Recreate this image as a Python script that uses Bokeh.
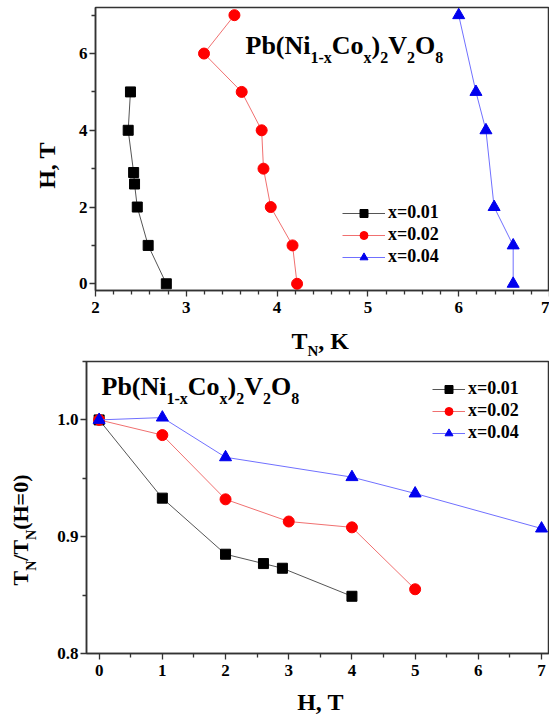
import math
from bokeh.plotting import figure
from bokeh.models import Range1d, FixedTicker, Label, Legend, LegendItem, ColumnDataSource
from bokeh.layouts import column, row
from bokeh.embed import file_html
from bokeh.resources import INLINE

# ---------------- data ----------------
series_names = ["x=0.01", "x=0.02", "x=0.04"]

# top panel: field H (T) versus Neel temperature T_N (K)
tn_001 = [2.78, 2.58, 2.46, 2.43, 2.42, 2.36, 2.385]
h_001 = [0, 1, 2, 2.6, 2.9, 4, 5]
tn_002 = [4.22, 4.17, 3.93, 3.85, 3.83, 3.61, 3.195, 3.53]
h_002 = [0, 1, 2, 3, 4, 5, 6, 7]
tn_004 = [6.60, 6.60, 6.39, 6.30, 6.19, 6.00]
h_004 = [0, 1, 2, 4, 5, 7]

# bottom panel: T_N / T_N(H=0) versus H
hr_001 = [0, 1, 2, 2.6, 2.9, 4]
ratio_001 = [1.0, 0.933, 0.885, 0.877, 0.873, 0.849]
hr_002 = [0, 1, 2, 3, 4, 5]
ratio_002 = [1.0, 0.987, 0.932, 0.913, 0.908, 0.855]
hr_004 = [0, 1, 2, 4, 5, 7]
ratio_004 = [1.0, 1.002, 0.968, 0.951, 0.937, 0.907]

top_xticks = [2, 3, 4, 5, 6, 7]
top_yticks = [0, 2, 4, 6]
bot_xticks = [0, 1, 2, 3, 4, 5, 6, 7]
bot_yticks = [0.8, 0.9, 1.0]

# ---------------- styling ----------------
FONT = "Liberation Serif"
MARKERS = ["square", "circle", "triangle"]
MCOLORS = ["#000000", "#ff0000", "#0000ee"]
LCOLORS = ["#555555", "#f07070", "#7070ff"]
MSIZES = [10, 11, 12]
LEG_MSIZES = [7, 9, 10]
AX = "#333333"
NAN = float("nan")
BASE_FIX = 0.4  # empirical lift so that "alphabetic" labels sit on the intended baseline

W = {"P": 611, "b": 556, "(": 333, ")": 333, "N": 722, "i": 278, "C": 722, "o": 500,
     "V": 722, "O": 778, "1": 500, "-": 333, "x": 500, "2": 500, "8": 500, "T": 667,
     "K": 778, "H": 778, ",": 250, " ": 250, "/": 278, "=": 570, "0": 500}


def tw(s, size):
    return sum(W.get(c, 500) for c in s) * size / 1000.0


def make_fig(width, height, left, top, bottom, xr, yr, xt, xminor, yt, yminor, fmt):
    p = figure(width=width, height=height, output_backend="svg", toolbar_location=None,
               x_range=Range1d(*xr), y_range=Range1d(*yr),
               min_border_left=left, min_border_right=0, min_border_top=top,
               min_border_bottom=bottom)
    p.xgrid.visible = False
    p.ygrid.visible = False
    p.outline_line_color = AX
    p.outline_line_width = 1.5
    p.background_fill_color = "white"
    p.border_fill_color = "white"
    p.xaxis.ticker = FixedTicker(ticks=xt, minor_ticks=xminor)
    p.yaxis.ticker = FixedTicker(ticks=yt, minor_ticks=yminor)
    p.yaxis.major_label_overrides = {v: fmt(v) for v in yt}
    p.xaxis.major_label_overrides = {v: str(int(v)) for v in xt}
    for ax in (p.xaxis, p.yaxis):
        ax.axis_line_color = AX
        ax.axis_line_width = 1.5
        ax.major_tick_line_color = AX
        ax.minor_tick_line_color = AX
        ax.major_tick_line_width = 1.3
        ax.minor_tick_line_width = 1.3
        ax.major_tick_in = 0
        ax.minor_tick_in = 0
        ax.major_tick_out = 6
        ax.minor_tick_out = 4
        ax.major_label_text_font = FONT
        ax.major_label_text_font_style = "bold"
        ax.major_label_text_font_size = "17px"
        ax.major_label_text_color = "black"
    p.xaxis.major_label_standoff = 5
    p.yaxis.major_label_standoff = 2
    return p


def text_fig(width, height, top=0, bottom=0):
    # a blank canvas whose data units are pixels (y measured from the canvas bottom)
    f = figure(width=width, height=height, output_backend="svg", toolbar_location=None,
               x_range=Range1d(0, width), y_range=Range1d(bottom, height - top),
               x_axis_location=None, y_axis_location=None,
               min_border_left=0, min_border_right=0, min_border_top=top,
               min_border_bottom=bottom)
    f.xgrid.visible = False
    f.ygrid.visible = False
    f.outline_line_color = None
    f.background_fill_color = "white"
    f.border_fill_color = "white"
    return f


def add_text(p, x, y, parts, size, subsize, drop, angle=0.0):
    off = 0.0
    for txt, sub in parts:
        s = subsize if sub else size
        fix = BASE_FIX * s
        if angle == 0.0:
            xo, yo = off, (-drop if sub else 0) + fix
        else:
            xo, yo = (drop if sub else 0) - fix, off
        p.add_layout(Label(x=x, y=y, x_offset=xo, y_offset=yo, text=txt, angle=angle,
                           text_font=FONT, text_font_style="bold",
                           text_font_size=f"{s}px", text_color="black",
                           text_baseline="alphabetic", text_align="left"))
        off += tw(txt, s)


def add_series(p, xs, ys, legend_loc, glyph_w):
    items = []
    for i, (x, y) in enumerate(zip(xs, ys)):
        src = ColumnDataSource(dict(x=x, y=y))
        p.line("x", "y", source=src, line_color=LCOLORS[i], line_width=1)
        p.scatter("x", "y", source=src, marker=MARKERS[i], size=MSIZES[i],
                  fill_color=MCOLORS[i], line_color=MCOLORS[i])
        dummy = ColumnDataSource(dict(x=[NAN], y=[NAN]))
        lr = p.line("x", "y", source=dummy, line_color=LCOLORS[i], line_width=1)
        sr = p.scatter("x", "y", source=dummy, marker=MARKERS[i], size=LEG_MSIZES[i],
                       fill_color=MCOLORS[i], line_color=MCOLORS[i])
        items.append(LegendItem(label=series_names[i], renderers=[lr, sr]))
    leg = Legend(items=items, location=legend_loc, orientation="vertical",
                 glyph_width=glyph_w, glyph_height=20, label_height=20, spacing=1,
                 label_standoff=3, padding=0, margin=0,
                 border_line_alpha=0, background_fill_alpha=0,
                 label_text_font=FONT, label_text_font_style="bold",
                 label_text_font_size="18px", label_text_color="black")
    p.add_layout(leg)


formula = [("Pb(Ni", False), ("1-x", True), ("Co", False), ("x", True), (")", False),
           ("2", True), ("V", False), ("2", True), ("O", False), ("8", True)]

# ---------------- top block ----------------
B1H = 325
X1 = (2, 7)
Y1 = (-0.175, 7.2)
p1 = make_fig(489, B1H, 35, 7, 35, X1, Y1,
              top_xticks, [2 + 0.2 * k for k in range(26) if k % 5],
              top_yticks, [1, 3, 5, 7], lambda v: str(int(v)))
add_series(p1, [tn_001, tn_002, tn_004], [h_001, h_002, h_004], (247, 23), 43)


def fx1(px):
    return X1[0] + (px - 95) * (X1[1] - X1[0]) / 454.0


def fy1(py):
    return Y1[1] - (py - 7) * (Y1[1] - Y1[0]) / 283.0


add_text(p1, fx1(245), fy1(55), formula, 26, 16, 8)

L1 = text_fig(60, B1H, 7, 35)
L1.add_layout(Label(x=46, y=B1H - 165, text="H, T", angle=math.pi / 2,
                    text_font=FONT, text_font_style="bold", text_font_size="24px",
                    text_color="black", text_align="center", text_baseline="middle"))

S1H = 34
S1 = text_fig(549, S1H)
add_text(S1, 291, S1H - (350 - B1H), [("T", False), ("N", True), (", K", False)], 24, 15, 6)

# ---------------- bottom block ----------------
B2H = 329
B2TOP = B1H + S1H
X2 = (-0.2, 7.126)
Y2 = (0.8, 1.05)
p2 = make_fig(498, B2H, 35, 2, 35, X2, Y2,
              bot_xticks, [k + 0.5 for k in range(-1, 8)],
              bot_yticks, [0.85, 0.95, 1.05], lambda v: f"{v:.1f}")
add_series(p2, [hr_001, hr_002, hr_004], [ratio_001, ratio_002, ratio_004], (346, 210), 33)


def fx2(px):
    return X2[0] + (px - 86) * (X2[1] - X2[0]) / 463.0


def fy2(py):
    return Y2[1] - (py - 361) * (Y2[1] - Y2[0]) / 292.0


add_text(p2, fx2(101), fy2(396), formula, 26, 16, 8)

L2 = text_fig(51, B2H, 2, 35)
add_text(L2, 29, B2TOP + B2H - 585,
         [("T", False), ("N", True), ("/T", False), ("N", True), ("(H=0)", False)],
         22, 14, 8, angle=math.pi / 2)

S2H = 718 - B2TOP - B2H
S2 = text_fig(549, S2H)
add_text(S2, 320 - tw("H, T", 24) / 2, S2H - (711 - B2TOP - B2H), [("H, T", False)], 24, 15, 6)

layout = column(row(L1, p1, spacing=0), S1, row(L2, p2, spacing=0), S2, spacing=0)
open("out.html", "w").write(file_html(layout, INLINE))
